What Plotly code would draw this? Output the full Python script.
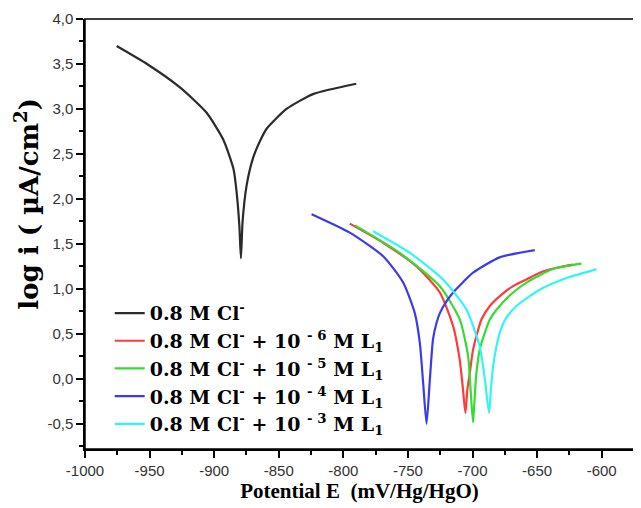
import plotly.graph_objects as go

# polarisation curves: potential (mV) and log i
E_blank = [-975.5, -952, -926.5, -906, -893, -885, -882.6, -880.5, -879.3,
           -878, -875, -870, -864.6, -859.4, -844, -823.4, -790]
I_blank = [3.70, 3.50, 3.24, 2.96, 2.66, 2.33, 2.07, 1.70, 1.34,
           1.75, 2.14, 2.45, 2.64, 2.78, 3.00, 3.165, 3.28]

E_1e6 = [-795, -769, -743.4, -725.3, -715, -709.9, -707.5, -705.5,
         -704, -702.1, -699.6, -693.1, -686.6, -678.9, -668.6, -658.3, -648, -635, -622.2]
I_1e6 = [1.725, 1.51, 1.25, 0.96, 0.585, 0.21, -0.10, -0.38,
         -0.12, 0.065, 0.325, 0.66, 0.81, 0.92, 1.03, 1.105, 1.18, 1.235, 1.27]

E_1e5 = [-791, -756.3, -725.3, -709.9, -703.4, -701.5, -699.6,
         -698.3, -697, -694.4, -690.5, -686.6, -679, -668.6, -658.3, -637.7, -615.7]
I_1e5 = [1.706, 1.40, 1.03, 0.66, 0.25, -0.12, -0.485,
         -0.20, 0.065, 0.325, 0.51, 0.66, 0.81, 0.96, 1.07, 1.22, 1.28]

E_1e4 = [-824.6, -795, -769, -753.7, -744.7, -740.8, -738.2, -735.6,
         -733, -730.6, -727.9, -725.3, -720.2, -715, -707, -699.6, -679, -651.8]
I_1e4 = [1.83, 1.625, 1.36, 1.07, 0.73, 0.40, -0.05, -0.50,
         0.00, 0.44, 0.62, 0.73, 0.86, 0.96, 1.08, 1.18, 1.35, 1.43]

E_1e3 = [-777, -748.5, -722.8, -704.7, -694.4, -690.5, -687.2,
         -685.8, -684.1, -681.5, -679, -673.8, -666, -648, -627.3, -604]
I_1e3 = [1.64, 1.40, 1.105, 0.77, 0.36, 0.00, -0.38,
         -0.12, 0.14, 0.36, 0.51, 0.68, 0.81, 0.99, 1.12, 1.22]

x_ticks = [-1000, -950, -900, -850, -800, -750, -700, -650, -600]
x_labels = ['-1000', '-950', '-900', '-850', '-800', '-750', '-700', '-650', '-600']
y_ticks = [-0.5, 0.0, 0.5, 1.0, 1.5, 2.0, 2.5, 3.0, 3.5, 4.0]
y_labels = ['-0,5', '0,0', '0,5', '1,0', '1,5', '2,0', '2,5', '3,0', '3,5', '4,0']

series = [
    ('0.8 M Cl<sup>-</sup>', E_blank, I_blank, '#2b2b2b'),
    ('0.8 M Cl<sup>-</sup> + 10 <sup>- 6</sup> M L<sub>1</sub>', E_1e6, I_1e6, '#ff3b3b'),
    ('0.8 M Cl<sup>-</sup> + 10 <sup>- 5</sup> M L<sub>1</sub>', E_1e5, I_1e5, '#33dd33'),
    ('0.8 M Cl<sup>-</sup> + 10 <sup>- 4</sup> M L<sub>1</sub>', E_1e4, I_1e4, '#3b3bee'),
    ('0.8 M Cl<sup>-</sup> + 10 <sup>- 3</sup> M L<sub>1</sub>', E_1e3, I_1e3, '#33f5f5'),
]

fig = go.Figure()
for name, xs, ys, col in series:
    fig.add_trace(go.Scatter(x=xs, y=ys, mode='lines', name=name,
                             line=dict(color=col, width=2.2, shape='spline', smoothing=0.6)))

serif = 'Liberation Serif'
# page body adds ~8px round the figure, so the figure is a bit smaller than the window
fig.update_layout(
    width=633, height=500,
    margin=dict(l=77, r=7, t=11, b=59),
    paper_bgcolor='white', plot_bgcolor='white',
    legend=dict(x=0.045, y=0.36, xanchor='left', yanchor='top',
                bgcolor='rgba(0,0,0,0)',
                font=dict(family='DejaVu Serif', size=19, color='black', weight='bold')),
    shapes=[dict(type='rect', xref='paper', yref='paper', x0=0, y0=0, x1=1, y1=1,
                 line=dict(color='black', width=1.5))],
    # y title as a note so it can sit a little above the middle, as in the source
    annotations=[dict(text='log i ( µA/cm<sup>2</sup>)', textangle=-90,
                      xref='paper', yref='paper', x=-0.106, y=0.57,
                      xanchor='center', yanchor='middle', showarrow=False,
                      font=dict(family='DejaVu Serif', size=26, color='black', weight='bold'))],
)
fig.update_xaxes(
    range=[-1000, -575], tickmode='array', tickvals=x_ticks, ticktext=x_labels,
    ticks='outside', ticklen=7, tickwidth=1.5, tickcolor='black', automargin=False,
    showline=True, linecolor='black', linewidth=1.5, showgrid=False, zeroline=False,
    minor=dict(tick0=-1000, dtick=25, ticks='outside', ticklen=4, tickcolor='black'),
    tickfont=dict(family='Liberation Sans', size=15, color='#333333'),
    title=dict(text='Potential E  (mV/Hg/HgO)', standoff=3,
               font=dict(family=serif, size=21, color='black', weight='bold')),
)
fig.update_yaxes(
    range=[-0.78, 4.0], tickmode='array', tickvals=y_ticks, ticktext=y_labels,
    ticks='outside', ticklen=7, tickwidth=1.5, tickcolor='black', automargin=False,
    showline=True, linecolor='black', linewidth=1.5, showgrid=False, zeroline=False,
    minor=dict(tick0=-0.5, dtick=0.25, ticks='outside', ticklen=4, tickcolor='black'),
    tickfont=dict(family='Liberation Sans', size=15, color='#333333'),
)

fig.write_html('out.html')
